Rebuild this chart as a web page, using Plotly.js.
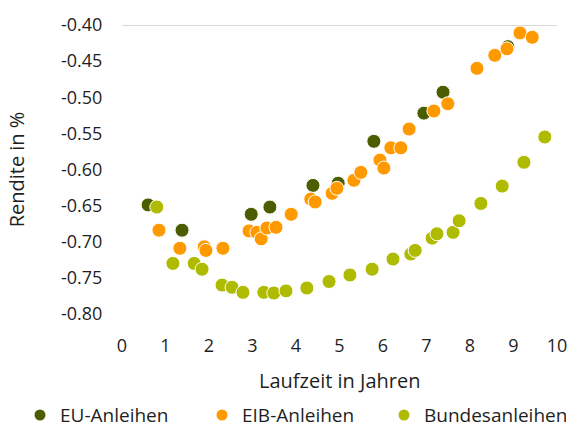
<!DOCTYPE html>
<html><head><meta charset="utf-8">
<script src="https://cdn.plot.ly/plotly-3.0.1.min.js"></script>
<style>html,body{margin:0;padding:0;background:#fff}#chart{width:570px;height:427px}</style>
</head><body><div id="chart"></div>
<script>
const seriesNames = ["EU-Anleihen", "EIB-Anleihen", "Bundesanleihen"];
const seriesColors = ["#4a5e00", "#ff9900", "#aebb00"];

const euX = [0.60, 1.38, 2.97, 3.40, 4.39, 4.97, 5.79, 6.94, 7.38, 8.87];
const euY = [-0.649, -0.684, -0.662, -0.652, -0.622, -0.619, -0.561, -0.522, -0.493, -0.430];

const eibX = [0.85, 1.33, 1.89, 1.93, 2.32, 2.92, 3.10, 3.20, 3.33, 3.54, 3.89, 4.34, 4.44, 4.83, 4.94, 5.33, 5.49, 5.93, 6.02, 6.18, 6.41, 6.60, 7.17, 7.49, 8.16, 8.57, 8.85, 9.15, 9.43];
const eibY = [-0.684, -0.709, -0.707, -0.712, -0.709, -0.685, -0.687, -0.696, -0.681, -0.680, -0.662, -0.641, -0.645, -0.633, -0.626, -0.615, -0.604, -0.587, -0.598, -0.570, -0.570, -0.544, -0.519, -0.509, -0.460, -0.442, -0.433, -0.411, -0.417];

const bundX = [0.80, 1.17, 1.66, 1.84, 2.30, 2.53, 2.78, 3.26, 3.49, 3.77, 4.25, 4.76, 5.24, 5.75, 6.23, 6.64, 6.74, 7.13, 7.24, 7.61, 7.75, 8.25, 8.74, 9.24, 9.72];
const bundY = [-0.652, -0.730, -0.730, -0.738, -0.760, -0.763, -0.770, -0.770, -0.771, -0.768, -0.764, -0.755, -0.746, -0.738, -0.724, -0.717, -0.712, -0.695, -0.689, -0.687, -0.671, -0.647, -0.623, -0.590, -0.555];

const xTicks = [0, 1, 2, 3, 4, 5, 6, 7, 8, 9, 10];
const yTicks = [-0.80, -0.75, -0.70, -0.65, -0.60, -0.55, -0.50, -0.45, -0.40];
const xTitle = "Laufzeit in Jahren";
const yTitle = "Rendite in %";

const FONT = "'Open Sans', sans-serif";
const TXT = "#1f1f1f";
const xs = [euX, eibX, bundX], ys = [euY, eibY, bundY];
const traces = seriesNames.map((n, i) => ({
  type: "scatter", mode: "markers", name: n, x: xs[i], y: ys[i],
  cliponaxis: false, showlegend: false, legendgroup: n,
  marker: {color: seriesColors[i], size: 14, line: {color: "#ffffff", width: 1}}
}));
// legend-only entries (smaller legend symbols, as in the reference)
seriesNames.forEach((n, i) => traces.push({
  type: "scatter", mode: "markers", name: n, x: [null], y: [null],
  showlegend: true, legendgroup: n,
  marker: {color: seriesColors[i], size: 11}
}));

const layout = {
  width: 570, height: 427,
  margin: {l: 122, r: 13, t: 25, b: 113, autoexpand: false},
  paper_bgcolor: "#fff", plot_bgcolor: "#fff",
  font: {family: FONT, size: 18, color: TXT},
  showlegend: true,
  legend: {orientation: "h", x: -0.2345, xanchor: "left", y: -0.35, yanchor: "middle",
           entrywidth: 137, entrywidthmode: "pixels",
           font: {family: FONT, size: 19, color: TXT}, itemwidth: 30, tracegroupgap: 0},
  xaxis: {range: [0, 10], tickvals: xTicks, ticktext: xTicks.map(String),
          showgrid: false, zeroline: false, showline: false,
          ticks: "outside", ticklen: 15, tickcolor: "rgba(0,0,0,0)",
          tickfont: {family: FONT, size: 18, color: TXT}},
  yaxis: {range: [-0.80, -0.40], tickvals: yTicks, ticktext: yTicks.map(v => v.toFixed(2)),
          showgrid: false, zeroline: false, showline: false,
          ticks: "outside", ticklen: 15, tickcolor: "rgba(0,0,0,0)",
          tickfont: {family: FONT, size: 18, color: TXT},
          title: {text: yTitle, font: {family: FONT, size: 20, color: TXT}, standoff: 30}},
  annotations: [{text: xTitle, xref: "paper", yref: "paper", x: 0.5, y: -66 / 289,
                 xanchor: "center", yanchor: "middle", showarrow: false,
                 font: {family: FONT, size: 20, color: TXT}}],
  shapes: [{type: "line", xref: "paper", yref: "y", x0: 0, x1: 1, y0: -0.40, y1: -0.40,
            line: {color: "#d9d9d9", width: 2}, layer: "below"}]
};
Plotly.newPlot("chart", traces, layout, {displayModeBar: false, staticPlot: true});
</script></body></html>
